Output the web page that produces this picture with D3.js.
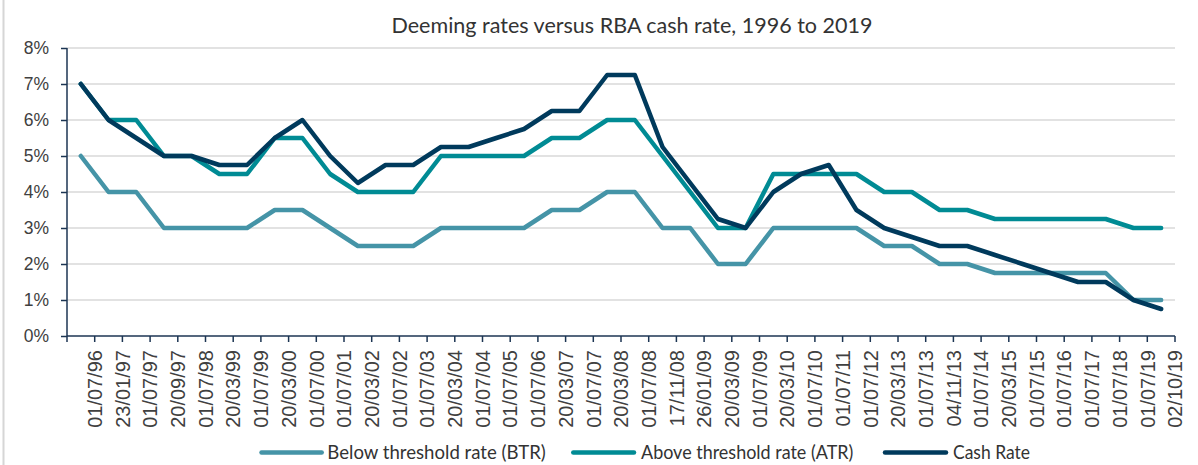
<!DOCTYPE html>
<html>
<head>
<meta charset="utf-8">
<script src="https://cdn.jsdelivr.net/npm/d3@7"></script>
<style>
  html, body { margin: 0; padding: 0; background: #ffffff; }
  svg { display: block; }
</style>
</head>
<body>
<svg id="chart" width="1198" height="465"></svg>
<script>
const categories = ["01/07/96","23/01/97","01/07/97","20/09/97","01/07/98","20/03/99","01/07/99","20/03/00","01/07/00","01/07/01","20/03/02","01/07/02","01/07/03","20/03/04","01/07/04","01/07/05","01/07/06","20/03/07","01/07/07","20/03/08","01/07/08","17/11/08","26/01/09","20/03/09","01/07/09","20/03/10","01/07/10","01/07/11","01/07/12","20/03/13","01/07/13","04/11/13","01/07/14","20/03/15","01/07/15","01/07/16","01/07/17","01/07/18","01/07/19","02/10/19"];
const btr  = [5,4,4,3,3,3,3,3.5,3.5,3,2.5,2.5,2.5,3,3,3,3,3.5,3.5,4,4,3,3,2,2,3,3,3,3,2.5,2.5,2,2,1.75,1.75,1.75,1.75,1.75,1,1];
const atr  = [7,6,6,5,5,4.5,4.5,5.5,5.5,4.5,4,4,4,5,5,5,5,5.5,5.5,6,6,5,4,3,3,4.5,4.5,4.5,4.5,4,4,3.5,3.5,3.25,3.25,3.25,3.25,3.25,3,3];
const cash = [7,6,5.5,5,5,4.75,4.75,5.5,6,5,4.25,4.75,4.75,5.25,5.25,5.5,5.75,6.25,6.25,7.25,7.25,5.25,4.25,3.25,3,4,4.5,4.75,3.5,3,2.75,2.5,2.5,2.25,2,1.75,1.5,1.5,1,0.75];
const yTicks = [0,1,2,3,4,5,6,7,8];
const seriesNames = ["Below threshold rate (BTR)","Above threshold rate (ATR)","Cash Rate"];
const seriesColors = ["#4594a7","#008b94","#003a5c"];
const title = "Deeming rates versus RBA cash rate, 1996 to 2019";

const svg = d3.select("#chart");
const W = 1198, H = 465;
const m = {left: 67, right: 1175, top: 48, bottom: 336};
const axisColor = "#1c3553";

// frame line on left
svg.append("line").attr("x1",3.5).attr("x2",3.5).attr("y1",0).attr("y2",H)
  .attr("stroke","#d6d6d6").attr("stroke-width",2);

const x = d3.scaleBand().domain(categories).range([m.left, m.right]).padding(0);
const y = d3.scaleLinear().domain([0,8]).range([m.bottom, m.top]);

// gridlines
svg.append("g").selectAll("line").data(yTicks.filter(d => d > 0)).join("line")
  .attr("x1", m.left).attr("x2", m.right)
  .attr("y1", d => y(d)).attr("y2", d => y(d))
  .attr("stroke","#d9d9d9").attr("stroke-width",1.5);

// y axis
const yAxis = svg.append("g").attr("transform",`translate(${m.left},0)`)
  .call(d3.axisLeft(y).tickValues(yTicks).tickFormat(d => d + "%").tickSize(6).tickPadding(12));
yAxis.select(".domain").attr("stroke", axisColor).attr("stroke-width",1.5)
  .attr("d", `M0,${m.top}V${m.bottom + 6}`);
yAxis.selectAll(".tick line").attr("stroke", axisColor).attr("stroke-width",1.5);
yAxis.selectAll(".tick text").attr("font-family","'Liberation Sans', Arial, sans-serif")
  .attr("font-size", 17.5).attr("fill","#404040");

// x axis
const xAxis = svg.append("g").attr("transform",`translate(0,${m.bottom})`)
  .call(d3.axisBottom(x).tickSize(0).tickFormat(""));
xAxis.select(".domain").attr("stroke", axisColor).attr("stroke-width",1.5)
  .attr("d", `M${m.left},0H${m.right}`);
xAxis.selectAll(".tick").remove();
// boundary tick marks
const bounds = categories.map(c => x(c) + x.bandwidth());
xAxis.append("g").selectAll("line").data(bounds).join("line")
  .attr("x1", d => d).attr("x2", d => d).attr("y1", 0).attr("y2", 6)
  .attr("stroke", axisColor).attr("stroke-width",1.5);
// labels (aligned at the right boundary of each category band)
xAxis.append("g").selectAll("text").data(categories).join("text")
  .attr("transform", c => `translate(${x(c) + x.bandwidth()},${14}) rotate(-90)`)
  .attr("text-anchor","end").attr("dy","0.36em")
  .attr("font-family","'Liberation Sans', Arial, sans-serif")
  .attr("font-size", 20).attr("fill","#404040")
  .text(c => c);

// lines
const line = d3.line().x((d,i) => x(categories[i]) + x.bandwidth()/2).y(d => y(d));
[btr, atr, cash].forEach((s, k) => {
  svg.append("path").datum(s).attr("d", line)
    .attr("fill","none").attr("stroke", seriesColors[k]).attr("stroke-width",4.5)
    .attr("stroke-linejoin","round").attr("stroke-linecap","round");
});

// title
const fitText = (sel, target) => {
  const len = sel.node().getComputedTextLength();
  if (len > 0) sel.attr("textLength", target).attr("lengthAdjust","spacingAndGlyphs");
};
const t = svg.append("text").attr("x", 391.5).attr("y", 33.3)
  .attr("font-family","Lato, 'Liberation Sans', sans-serif").attr("font-size", 21)
  .attr("fill","#333333").text(title);
fitText(t, 481);

// legend
const legendSamples = [[261.5, 321.7], [573.3, 634], [885, 946]];
const legendText = [[327.3, 218.5], [641, 212.3], [953, 77]];
const lg = svg.append("g");
seriesNames.forEach((n, k) => {
  lg.append("line").attr("x1", legendSamples[k][0]).attr("x2", legendSamples[k][1])
    .attr("y1", 452.5).attr("y2", 452.5).attr("stroke", seriesColors[k])
    .attr("stroke-width", 4.5).attr("stroke-linecap","round");
  const tt = lg.append("text").attr("x", legendText[k][0]).attr("y", 459)
    .attr("font-family","Lato, 'Liberation Sans', sans-serif").attr("font-size", 20)
    .attr("fill","#333333").text(n);
  fitText(tt, legendText[k][1]);
});
</script>
</body>
</html>
